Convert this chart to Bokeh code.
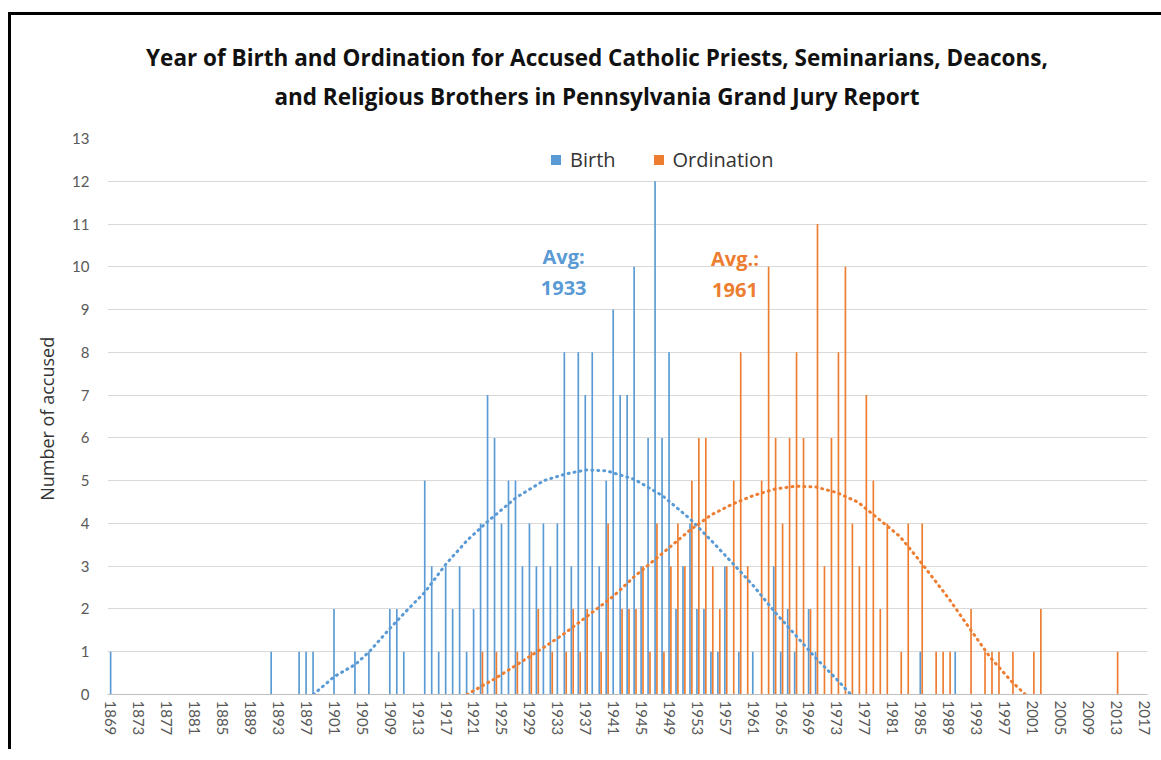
from bokeh.plotting import figure
from bokeh.models import (Range1d, FixedTicker, Legend, LegendItem, Label, Div,
                          GlobalInlineStyleSheet)
from bokeh.layouts import column
from bokeh.embed import file_html
from bokeh.resources import INLINE

# ---- data ----
birth_years = [1869, 1892, 1896, 1897, 1898, 1901, 1904, 1906, 1909, 1910, 1911,
               1914, 1915, 1916, 1917, 1918, 1919, 1920, 1921, 1922, 1923, 1924,
               1925, 1926, 1927, 1928, 1929, 1930, 1931, 1932, 1933, 1934, 1935,
               1936, 1937, 1938, 1939, 1940, 1941, 1942, 1943, 1944, 1945, 1946,
               1947, 1948, 1949, 1950, 1951, 1952, 1953, 1954, 1955, 1956, 1957,
               1959, 1961, 1964, 1965, 1966, 1967, 1969, 1970, 1985, 1990]
birth_counts = [1, 1, 1, 1, 1, 2, 1, 1, 2, 2, 1,
                5, 3, 1, 3, 2, 3, 1, 2, 4, 7, 6,
                4, 5, 5, 3, 4, 3, 4, 3, 4, 8, 3,
                8, 7, 8, 3, 5, 9, 7, 7, 10, 3, 6,
                12, 6, 8, 2, 3, 4, 2, 2, 1, 1, 3,
                1, 1, 3, 1, 2, 1, 2, 1, 1, 1]

ord_years = [1922, 1924, 1927, 1929, 1930, 1932, 1934, 1935, 1936, 1937, 1939,
             1940, 1942, 1943, 1944, 1945, 1946, 1947, 1948, 1949, 1950, 1951,
             1952, 1953, 1954, 1955, 1956, 1957, 1958, 1959, 1960, 1962, 1963,
             1964, 1965, 1966, 1967, 1968, 1969, 1970, 1971, 1972, 1973, 1974,
             1975, 1976, 1977, 1978, 1979, 1980, 1982, 1983, 1985, 1987, 1988,
             1989, 1992, 1994, 1995, 1996, 1998, 2001, 2002, 2013]
ord_counts = [1, 1, 1, 1, 2, 1, 1, 2, 1, 2, 1,
              4, 2, 2, 2, 3, 1, 4, 1, 3, 4, 3,
              5, 6, 6, 3, 2, 3, 5, 8, 3, 5, 10,
              6, 4, 6, 8, 6, 2, 11, 3, 6, 8, 10,
              4, 3, 7, 5, 2, 4, 1, 4, 4, 1, 1,
              1, 2, 1, 1, 1, 1, 1, 2, 1]

# dotted trend lines
birth_trend_years = [1898, 1901, 1904, 1906, 1909, 1911, 1914, 1917, 1920, 1923,
                     1927, 1931, 1934, 1937, 1940, 1944, 1948, 1952, 1955, 1958,
                     1961, 1964, 1967, 1970, 1973, 1975]
birth_trend_values = [0.0, 0.42, 0.7, 1.0, 1.55, 1.9, 2.4, 3.05, 3.6, 4.05,
                      4.6, 5.0, 5.15, 5.25, 5.23, 5.03, 4.65, 4.1, 3.6, 3.08,
                      2.55, 1.95, 1.4, 0.85, 0.35, 0.0]
ord_trend_years = [1920, 1924, 1927, 1931, 1934, 1937, 1941, 1944, 1948, 1952,
                   1955, 1958, 1961, 1964, 1967, 1970, 1973, 1976, 1979, 1982,
                   1985, 1989, 1992, 1995, 1998, 2000]
ord_trend_values = [0.0, 0.37, 0.68, 1.1, 1.43, 1.8, 2.3, 2.76, 3.3, 3.85,
                    4.2, 4.45, 4.65, 4.8, 4.87, 4.85, 4.72, 4.5, 4.1, 3.7,
                    3.1, 2.25, 1.55, 0.86, 0.31, 0.0]

tick_years = list(range(1869, 2018, 4))
y_ticks = list(range(0, 14))
title_lines = ["Year of Birth and Ordination for Accused Catholic Priests, Seminarians, Deacons,",
               "and Religious Brothers in Pennsylvania Grand Jury Report"]

BLUE = "#5B9BD5"
ORANGE = "#ED7D31"
FONT = "Open Sans"
TICKFONT = "Lato"

TITLE_H = 100

title_div = Div(
    text=('<div style="width:1160px; box-sizing:border-box; padding-top:23px; '
          'padding-left:12px; text-align:center; white-space:nowrap; '
          "font-family:'Open Sans'; font-weight:bold; font-size:22.5px; "
          'line-height:39px; color:#111111;">'
          + "<br>".join(title_lines) + "</div>"),
    width=1160, height=TITLE_H, margin=(0, 0, 0, 0))

p = figure(width=1160, height=737 - TITLE_H, output_backend="svg", toolbar_location=None,
           x_range=Range1d(1868.5, 2017.5), y_range=Range1d(0, 13), title=None,
           min_border_left=96, min_border_right=24, min_border_top=123 - TITLE_H,
           min_border_bottom=58, margin=(0, 0, 0, 0))

p.outline_line_color = None
p.xgrid.visible = False
p.ygrid.grid_line_color = "#D9D9D9"
p.ygrid.ticker = FixedTicker(ticks=y_ticks)

rb = p.vbar(x=[y - 0.05 for y in birth_years], top=birth_counts, width=0.24,
            fill_color=BLUE, line_color=None)
ro = p.vbar(x=[y + 0.22 for y in ord_years], top=ord_counts, width=0.24,
            fill_color=ORANGE, line_color=None)

p.line(birth_trend_years, birth_trend_values, line_color=BLUE, line_width=3,
       line_dash="1 5", line_cap="round")
p.line(ord_trend_years, ord_trend_values, line_color=ORANGE, line_width=3,
       line_dash="1 5", line_cap="round")

# legend swatches (square markers that are not drawn in the plot: NaN position)
nan = float("nan")
sb = p.scatter(x=[nan], y=[nan], marker="square", size=10, fill_color=BLUE, line_color=None)
so = p.scatter(x=[nan], y=[nan], marker="square", size=10, fill_color=ORANGE, line_color=None)

# axes
p.yaxis.ticker = FixedTicker(ticks=y_ticks)
p.yaxis.axis_line_color = None
p.yaxis.major_tick_line_color = None
p.yaxis.minor_tick_line_color = None
p.yaxis.major_tick_out = 0
p.yaxis.major_tick_in = 0
p.yaxis.major_label_standoff = 18
p.yaxis.major_label_text_font = TICKFONT
p.yaxis.major_label_text_font_size = "15px"
p.yaxis.major_label_text_color = "#595959"
p.yaxis.axis_label = "Number  of accused"
p.yaxis.axis_label_standoff = 10
p.yaxis.axis_label_text_font = FONT
p.yaxis.axis_label_text_font_size = "18px"
p.yaxis.axis_label_text_font_style = "normal"
p.yaxis.axis_label_text_color = "#333333"

p.xaxis.ticker = FixedTicker(ticks=tick_years)
p.xaxis.major_label_orientation = "vertical"
p.xaxis.axis_line_color = "#BFBFBF"
p.xaxis.major_tick_line_color = None
p.xaxis.minor_tick_line_color = None
p.xaxis.major_tick_out = 0
p.xaxis.major_tick_in = 0
p.xaxis.major_label_standoff = 6
p.xaxis.major_label_text_font = TICKFONT
p.xaxis.major_label_text_font_size = "15px"
p.xaxis.major_label_text_color = "#595959"

legend = Legend(items=[LegendItem(label="Birth", renderers=[sb]),
                       LegendItem(label="Ordination", renderers=[so])],
                orientation="horizontal", location=(436, 521),
                border_line_color=None, background_fill_alpha=0,
                label_text_font=FONT, label_text_font_size="20px",
                label_text_color="#333333", glyph_width=25, glyph_height=25,
                label_height=25, spacing=30, label_standoff=2, padding=0, margin=0)
p.add_layout(legend, "center")

for txt, x, y, col in [("Avg:", 1933.85, 10.23, BLUE), ("1933", 1933.85, 9.5, BLUE),
                       ("Avg.:", 1958.4, 10.19, ORANGE), ("1961", 1958.4, 9.46, ORANGE)]:
    p.add_layout(Label(x=x, y=y, text=txt, text_align="center", text_baseline="middle",
                       text_font=FONT, text_font_size="20px", text_font_style="bold",
                       text_color=col))

layout = column(title_div, p, spacing=0)
layout.styles = {"margin-left": "11px", "margin-top": "15px",
                 "box-shadow": "-3px -3px 0px 0px #000000", "background": "white"}
layout.stylesheets = [GlobalInlineStyleSheet(css="html, body { overflow: hidden; }")]

open("out.html", "w").write(file_html(layout, INLINE))
